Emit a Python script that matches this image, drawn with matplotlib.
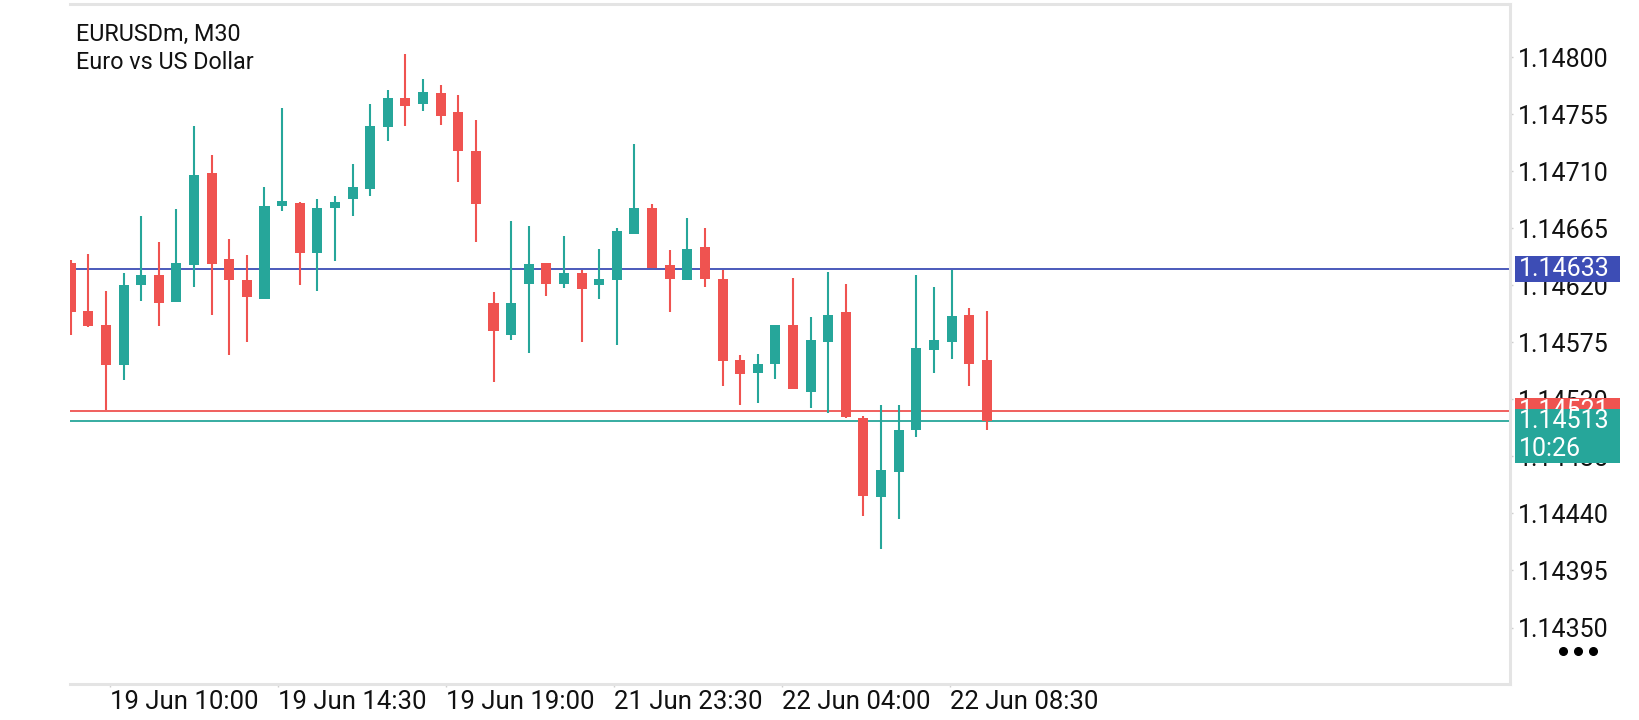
import matplotlib.pyplot as plt
from matplotlib.patches import Rectangle
from matplotlib.lines import Line2D
from matplotlib.transforms import blended_transform_factory

plt.rcParams['font.family'] = ['Roboto', 'DejaVu Sans']

# chart header
symbol = "EURUSDm, M30"
description = "Euro vs US Dollar"

# 30 minute candles
opens = [1.14638, 1.14600, 1.14589, 1.14557, 1.14620, 1.14628, 1.14607, 1.14636, 1.14709, 1.14641,
         1.14624, 1.14609, 1.14683, 1.14685, 1.14646, 1.14681, 1.14688, 1.14696, 1.14745, 1.14768,
         1.14763, 1.14772, 1.14757, 1.14726, 1.14606, 1.14581, 1.14621, 1.14638, 1.14621, 1.14630,
         1.14620, 1.14624, 1.14661, 1.14681, 1.14636, 1.14624, 1.14650, 1.14625, 1.14561, 1.14551,
         1.14558, 1.14589, 1.14536, 1.14575, 1.14599, 1.14515, 1.14453, 1.14473, 1.14506, 1.14569,
         1.14575, 1.14597, 1.14561]
highs = [1.14640, 1.14645, 1.14616, 1.14630, 1.14675, 1.14654, 1.14680, 1.14746, 1.14723, 1.14657,
         1.14644, 1.14698, 1.14760, 1.14686, 1.14688, 1.14691, 1.14716, 1.14763, 1.14774, 1.14803,
         1.14783, 1.14778, 1.14770, 1.14751, 1.14615, 1.14671, 1.14667, 1.14638, 1.14659, 1.14632,
         1.14649, 1.14665, 1.14732, 1.14684, 1.14648, 1.14673, 1.14665, 1.14632, 1.14565, 1.14566,
         1.14589, 1.14626, 1.14595, 1.14631, 1.14621, 1.14517, 1.14526, 1.14526, 1.14628, 1.14619,
         1.14632, 1.14602, 1.14600]
lows = [1.14581, 1.14587, 1.14522, 1.14545, 1.14608, 1.14588, 1.14607, 1.14619, 1.14597, 1.14565,
        1.14575, 1.14609, 1.14679, 1.14620, 1.14616, 1.14639, 1.14675, 1.14691, 1.14734, 1.14746,
        1.14758, 1.14747, 1.14702, 1.14654, 1.14544, 1.14577, 1.14567, 1.14612, 1.14618, 1.14575,
        1.14609, 1.14573, 1.14661, 1.14634, 1.14599, 1.14624, 1.14619, 1.14541, 1.14526, 1.14527,
        1.14546, 1.14538, 1.14523, 1.14519, 1.14515, 1.14438, 1.14412, 1.14436, 1.14500, 1.14551,
        1.14562, 1.14541, 1.14506]
closes = [1.14599, 1.14588, 1.14557, 1.14620, 1.14628, 1.14606, 1.14638, 1.14707, 1.14637, 1.14624,
          1.14611, 1.14683, 1.14687, 1.14646, 1.14681, 1.14686, 1.14698, 1.14746, 1.14768, 1.14762,
          1.14773, 1.14754, 1.14726, 1.14684, 1.14584, 1.14606, 1.14637, 1.14621, 1.14630, 1.14617,
          1.14625, 1.14663, 1.14681, 1.14634, 1.14625, 1.14649, 1.14625, 1.14560, 1.14550, 1.14558,
          1.14589, 1.14538, 1.14577, 1.14597, 1.14516, 1.14454, 1.14474, 1.14506, 1.14571, 1.14577,
          1.14596, 1.14558, 1.14513]

time_labels = ["19 Jun 10:00", "19 Jun 14:30", "19 Jun 19:00",
               "21 Jun 23:30", "22 Jun 04:00", "22 Jun 08:30"]
time_tick_pos = [2.23, 11.76, 21.30, 30.83, 40.37, 49.90]

price_ticks = [1.14350, 1.14395, 1.14440, 1.14485, 1.14530,
               1.14575, 1.14620, 1.14665, 1.14710, 1.14755, 1.14800]

level_price = 1.14633
ask_price = 1.14521
bid_price = 1.14513
countdown = "10:26"

UP = "#26a69a"
DOWN = "#ef5350"
LEVEL = "#3d4db5"
BORDER = "#e4e4e4"

fig = plt.figure(figsize=(16.4, 7.2), dpi=100)
ax = fig.add_axes([70 / 1640, 1 - 684 / 720, 1440 / 1640, (684 - 3.5) / 720])

xs = list(range(len(opens)))
colors = [UP if c >= o else DOWN for o, c in zip(opens, closes)]

ax.vlines(xs, lows, highs, colors=colors, linewidth=1.5, zorder=2)
bodies = [max(abs(c - o), 0.000008) for o, c in zip(opens, closes)]
bottoms = [min(o, c) for o, c in zip(opens, closes)]
ax.bar(xs, bodies, bottom=bottoms, width=0.57, color=colors, linewidth=0, zorder=3)

ax.axhline(level_price, color=LEVEL, linewidth=1.3, zorder=1)
ax.axhline(ask_price, color=DOWN, linewidth=1.3, zorder=1)
ax.axhline(bid_price, color=UP, linewidth=1.3, zorder=1)

ax.set_xlim(-0.04, 81.7)
ax.set_ylim(1.143054, 1.148426)

ax.yaxis.tick_right()
ax.set_yticks(price_ticks)
ax.set_yticklabels([f"{p:.5f}" for p in price_ticks])
ax.set_xticks(time_tick_pos)
ax.set_xticklabels(time_labels)
for lab in ax.get_xticklabels():
    lab.set_horizontalalignment('left')

ax.tick_params(axis='y', length=2.5, width=1, color='#cfcfcf', pad=3.5,
               labelsize=18, labelcolor='#111111')
ax.tick_params(axis='x', length=2.5, width=1, color='#cfcfcf', pad=2,
               labelsize=18.5, labelcolor='#111111')

ax.spines['left'].set_visible(False)
for side in ['top', 'right', 'bottom']:
    ax.spines[side].set_color(BORDER)
    ax.spines[side].set_linewidth(2.2)

# price boxes on the right scale
tr = blended_transform_factory(ax.transAxes, ax.transData)
px = (ax.get_ylim()[1] - ax.get_ylim()[0]) / 680.5
box_x = 1.0035
box_w = 0.073


def price_box(price, color, h_up, h_down, lines, z):
    ax.add_patch(Rectangle((box_x, price - h_down * px), box_w, (h_up + h_down) * px,
                           transform=tr, facecolor=color, edgecolor='none',
                           clip_on=False, zorder=z))
    for i, txt in enumerate(lines):
        ax.text(box_x + 0.003, price - i * 28 * px, txt, transform=tr, color='white',
                fontsize=18, ha='left', va='center', clip_on=False, zorder=z + 0.5)


price_box(level_price, LEVEL, 13, 13, [f"{level_price:.5f}"], 6)
price_box(ask_price, DOWN, 13, 13, [f"{ask_price:.5f}"], 6)
price_box(bid_price, UP, 12, 42, [f"{bid_price:.5f}", countdown], 8)

fig.text(76.5 / 1640, 1 - 41 / 720, symbol, fontsize=16.8, color='#111111', va='baseline')
fig.text(76.5 / 1640, 1 - 69.3 / 720, description, fontsize=16.8, color='#111111', va='baseline')

fig.add_artist(Line2D([1563 / 1640, 1578 / 1640, 1593 / 1640], [1 - 651 / 720] * 3,
                      marker='o', linestyle='none', markersize=5.5, color='black',
                      transform=fig.transFigure))

fig.savefig("out.png", dpi=100, facecolor='white')
